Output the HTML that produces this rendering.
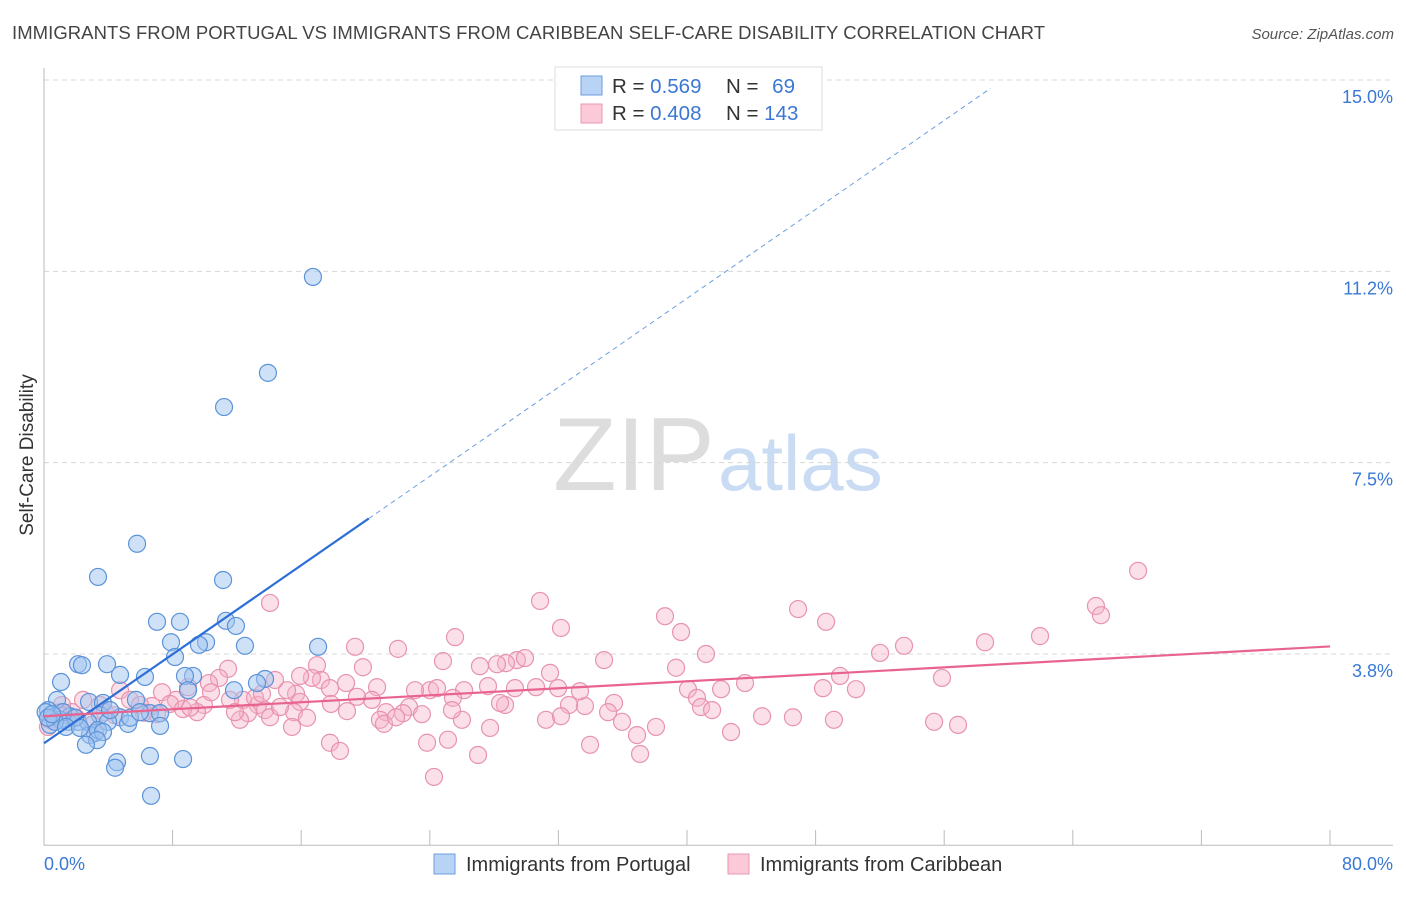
<!DOCTYPE html>
<html><head><meta charset="utf-8"><style>
body{margin:0;background:#fff;font-family:"Liberation Sans",sans-serif;}
svg text{font-family:"Liberation Sans",sans-serif;}
</style></head><body>
<svg id="chart" width="1406" height="892" viewBox="0 0 1406 892">
<text x="12" y="39" font-size="18.5" fill="#444" textLength="1033">IMMIGRANTS FROM PORTUGAL VS IMMIGRANTS FROM CARIBBEAN SELF-CARE DISABILITY CORRELATION CHART</text>
<text x="1394" y="39" font-size="15" fill="#555" font-style="italic" text-anchor="end">Source: ZipAtlas.com</text>
<g>
<text x="553" y="490" font-size="104" fill="#ddd" font-family="Liberation Serif">ZIP</text>
<text x="718" y="490" font-size="78" fill="#c9dcf3">atlas</text>
</g>
<g id="grid"></g>
<g id="axes"></g>
<g id="pts"></g>
<g id="lines"></g>
<text x="33" y="455" font-size="19" fill="#333" transform="rotate(-90 33 455)" text-anchor="middle">Self-Care Disability</text>
<text x="44" y="870" font-size="18" fill="#3a78d4">0.0%</text>
<text x="1393" y="870" font-size="18" fill="#3a78d4" text-anchor="end">80.0%</text>
<g>
<rect x="555" y="67" width="267" height="63" fill="#fff" stroke="#ddd"/>
<rect x="581" y="76" width="21" height="19" fill="#b8d3f5" stroke="#6b9ee0"/>
<rect x="581" y="104" width="21" height="19" fill="#fbc9d8" stroke="#ea98b2"/>
<text x="612" y="93" font-size="20.5" fill="#333">R = <tspan fill="#3a78d4">0.569</tspan></text>
<text x="726" y="93" font-size="20.5" fill="#333">N = <tspan fill="#3a78d4" dx="8">69</tspan></text>
<text x="612" y="120" font-size="20.5" fill="#333">R = <tspan fill="#3a78d4">0.408</tspan></text>
<text x="726" y="120" font-size="20.5" fill="#333">N = <tspan fill="#3a78d4">143</tspan></text>
</g>
<g>
<rect x="434" y="854" width="21" height="20" fill="#b8d3f5" stroke="#6b9ee0"/>
<text x="466" y="871" font-size="20" fill="#333">Immigrants from Portugal</text>
<rect x="728" y="854" width="21" height="20" fill="#fbc9d8" stroke="#ea98b2"/>
<text x="760" y="871" font-size="20" fill="#333">Immigrants from Caribbean</text>
</g>
</svg>
<script>
const yTicks=[3.8,7.5,11.2,15.0];
const yTickPos=[3.75,7.5,11.25,15.0];
const xTicks=[0,8,16,24,32,40,48,56,64,72,80];
const portugalX=[16.73,13.93,11.20,5.79,3.36,11.14,7.03,8.46,11.32,11.94,7.90,10.08,9.64,12.50,17.05,8.15,2.12,2.36,3.92,6.28,4.73,9.27,8.77,13.75,13.25,1.06,8.96,11.82,5.72,2.80,0.81,3.67,0.25,3.48,4.73,6.59,7.22,0.62,1.62,1.00,1.49,2.12,2.74,3.98,5.23,7.22,3.17,2.86,3.36,3.67,3.30,2.61,4.54,4.42,6.59,8.65,6.66,0.1,0.37,1.18,1.93,0.68,0.25,1.37,2.24,4.11,5.35,5.97,0.50];
const portugalY=[11.14,9.26,8.59,5.91,5.26,5.20,4.38,4.38,4.40,4.30,3.98,3.98,3.93,3.91,3.89,3.69,3.55,3.53,3.55,3.30,3.34,3.32,3.32,3.26,3.18,3.20,3.04,3.04,2.85,2.81,2.85,2.79,2.65,2.55,2.51,2.59,2.59,2.53,2.53,2.46,2.42,2.42,2.42,2.42,2.38,2.34,2.20,2.16,2.26,2.22,2.06,1.97,1.63,1.52,1.75,1.69,0.97,2.61,2.36,2.61,2.50,2.42,2.50,2.32,2.30,2.65,2.50,2.61,2.57];
const caribX=[14.06,30.86,38.63,46.91,48.65,68.06,65.44,65.75,61.96,58.54,53.50,52.01,39.63,25.57,32.16,19.35,22.02,24.82,19.84,16.98,17.23,16.67,20.72,18.79,17.79,15.68,15.93,27.12,29.42,28.74,28.18,29.92,31.48,34.84,39.32,41.18,43.61,42.12,40.06,40.62,40.87,41.56,35.46,35.09,33.65,32.66,33.34,31.98,30.61,29.30,27.62,26.13,25.44,24.01,23.08,22.71,22.33,21.28,20.40,19.47,18.85,17.85,15.93,15.12,14.37,13.31,13.75,14.06,12.38,12.69,11.57,11.45,10.89,10.26,9.95,9.52,10.39,8.96,8.21,7.34,6.72,7.03,12.19,11.88,15.55,16.36,15.43,17.79,18.41,20.90,21.15,21.90,23.51,23.83,24.26,25.13,26.00,27.00,27.75,28.68,31.23,32.16,33.97,35.96,36.89,38.07,37.08,42.74,44.67,46.59,49.14,48.46,50.51,49.52,55.86,55.37,56.86,28.37,25.38,24.45,14.68,13.13,13.56,4.73,5.35,3.48,2.43,1.74,1.00,0.37,3.79,5.97,7.84,8.65,4.42,2.99,1.12,0.25,0.9,2.0,6.2,9.1];
const caribY=[4.75,4.79,4.49,4.63,4.38,5.38,4.69,4.51,4.10,3.98,3.91,3.77,4.18,4.08,4.26,3.89,3.85,3.61,3.49,3.53,3.24,3.28,3.10,3.18,3.08,2.97,3.32,3.51,3.63,3.57,3.55,3.67,3.38,3.63,3.48,3.75,3.18,3.06,3.06,2.89,2.71,2.65,2.79,2.61,2.73,2.75,3.02,3.08,3.10,3.08,3.12,3.04,2.89,3.04,3.04,2.71,2.59,2.61,2.85,2.91,2.63,2.77,2.81,3.04,3.24,2.75,2.65,2.51,2.85,2.59,2.85,3.46,3.28,3.18,2.75,2.61,3.00,3.10,2.85,3.00,2.73,2.57,2.46,2.61,2.61,2.50,2.32,2.01,1.85,2.46,2.38,2.51,2.57,2.01,1.34,2.07,2.46,1.77,2.30,2.75,2.46,2.53,1.97,2.42,2.16,2.32,1.79,2.22,2.53,2.51,2.46,3.08,3.06,3.32,3.28,2.42,2.36,2.79,2.65,3.08,2.71,2.89,2.97,3.04,2.85,2.75,2.85,2.61,2.55,2.46,2.61,2.75,2.77,2.67,2.55,2.36,2.75,2.32,2.6,2.5,2.6,2.7];
const portugalTrend=[2.0,0.218];
const caribTrend=[2.53,0.0171];

const NS='http://www.w3.org/2000/svg';
const X0=44,X1=1330,Y0=845.3,YS=51.02;
function sx(v){return X0+(X1-X0)*v/80;}
function sy(v){return Y0-v*YS;}
function mk(tag,attrs,parent){const e=document.createElementNS(NS,tag);for(const k in attrs)e.setAttribute(k,attrs[k]);parent.appendChild(e);return e;}
const grid=document.getElementById('grid'),axes=document.getElementById('axes'),pts=document.getElementById('pts'),lines=document.getElementById('lines');
yTicks.forEach((t,i)=>{
  const y=sy(yTickPos[i]);
  const l=mk('line',{x1:X0,x2:1393,y1:y,y2:y,stroke:'#d8d8d8','stroke-dasharray':'5,4'},grid);
  
  
  const tx=mk('text',{x:1393,y:y+23,'font-size':18,fill:'#3a78d4','text-anchor':'end'},grid);
  tx.textContent=t.toFixed(1)+'%';
  
  
});
const ya=mk('line',{x1:X0,x2:X0,y1:68,y2:Y0,stroke:'#bbb'},axes);


const xa=mk('line',{x1:X0,x2:1393,y1:Y0,y2:Y0,stroke:'#bbb'},axes);


xTicks.forEach(t=>{
  const tk=mk('line',{x1:sx(t),x2:sx(t),y1:830,y2:Y0,stroke:'#bbb'},axes);
  
  
});
caribX.forEach((v,i)=>{
  const c=mk('circle',{cx:sx(v),cy:sy(caribY[i]),r:8.5,fill:'rgba(246,178,200,0.4)',stroke:'#e893ad','stroke-width':1.2},pts);
  
  
});
portugalX.forEach((v,i)=>{
  const c=mk('circle',{cx:sx(v),cy:sy(portugalY[i]),r:8.5,fill:'rgba(160,196,240,0.5)',stroke:'#5b93d9','stroke-width':1.2},pts);
  
  
});
const bl=mk('line',{x1:sx(0),y1:sy(portugalTrend[0]),x2:sx(20.2),y2:sy(portugalTrend[0]+portugalTrend[1]*20.2),stroke:'#2d6fd6','stroke-width':2.2},lines);


const bd=mk('line',{x1:sx(20.2),y1:sy(portugalTrend[0]+portugalTrend[1]*20.2),x2:sx(58.9),y2:sy(portugalTrend[0]+portugalTrend[1]*58.9),stroke:'#6b9ee0','stroke-width':1,'stroke-dasharray':'5,4'},lines);


const pl=mk('line',{x1:sx(0),y1:sy(caribTrend[0]),x2:sx(80),y2:sy(caribTrend[0]+caribTrend[1]*80),stroke:'#e8648f','stroke-width':2.2},lines);


</script>
</body></html>
